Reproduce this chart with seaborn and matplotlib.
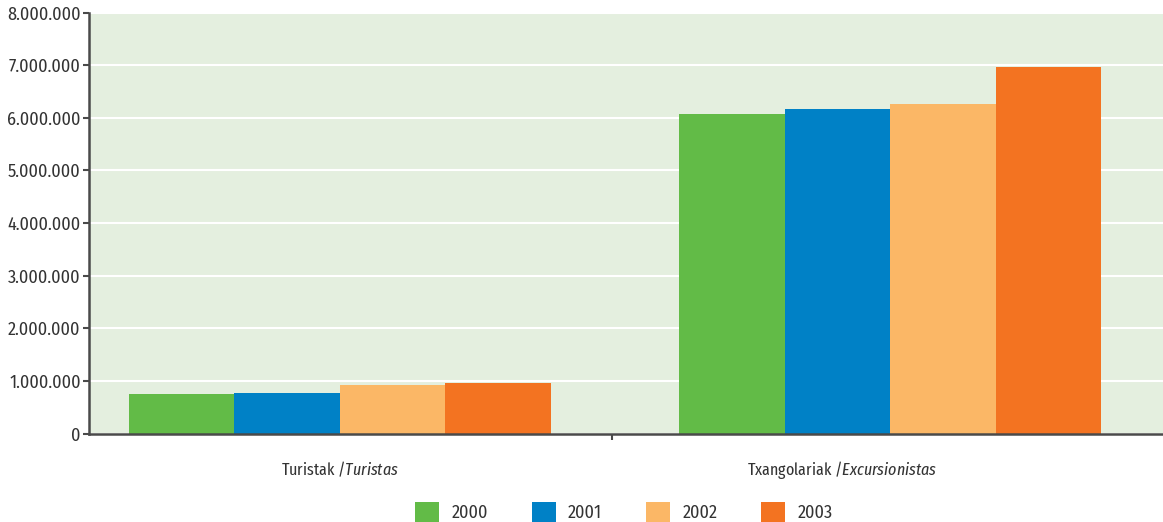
import matplotlib
matplotlib.use("Agg")
import matplotlib.pyplot as plt
import seaborn as sns
import pandas as pd
from matplotlib import font_manager as fm
from matplotlib.ticker import FuncFormatter, FixedLocator

categories = ["Turistak /$\\it{Turistas}$", "Txangolariak /$\\it{Excursionistas}$"]
years = ["2000", "2001", "2002", "2003"]
turistak = [747000, 766000, 918000, 956000]
txangolariak = [6070000, 6165000, 6260000, 6964000]
colors = ["#62bb47", "#0081c6", "#fbb766", "#f37321"]

rows = []
for i, y in enumerate(years):
    rows.append({"cat": categories[0], "year": y, "value": turistak[i]})
    rows.append({"cat": categories[1], "year": y, "value": txangolariak[i]})
df = pd.DataFrame(rows)

sns.set_style("white")
names = {f.name for f in fm.fontManager.ttflist}
font = "DejaVu Sans"
for cand in ["Fira Sans Condensed", "Roboto Condensed", "Archivo Narrow", "PT Sans Narrow"]:
    if cand in names:
        font = cand
        break
labfont = font
labsize = 11.5
if "Fira Sans Extra Condensed" in names:
    labfont = "Fira Sans Extra Condensed"
    labsize = 12.5
plt.rcParams["font.family"] = [font, "DejaVu Sans"]
plt.rcParams["mathtext.fontset"] = "custom"
plt.rcParams["mathtext.it"] = labfont + ":italic"
plt.rcParams["mathtext.rm"] = labfont

fig = plt.figure(figsize=(11.63, 5.22), dpi=100)
ax = fig.add_axes([89 / 1163, 1 - 433.5 / 522, (1163 - 89) / 1163, (433.5 - 12.5) / 522])
ax.set_facecolor("#e4efdf")

sns.barplot(data=df, x="cat", y="value", hue="year", hue_order=years,
            palette=colors, width=0.767, saturation=1, ax=ax, legend=True,
            order=categories, linewidth=0, edgecolor="none")

ax.set_ylim(0, 8000000)
ax.set_xlim(-0.456, 1.496)
ax.yaxis.set_major_locator(FixedLocator(range(0, 8000001, 1000000)))
ax.yaxis.set_major_formatter(FuncFormatter(lambda v, p: f"{int(v):,}".replace(",", ".")))
ax.grid(axis="y", color="white", linewidth=1.5)
ax.set_axisbelow(True)
for s in ["top", "right"]:
    ax.spines[s].set_visible(False)
for s in ["left", "bottom"]:
    ax.spines[s].set_color("#4a4a4a")
    ax.spines[s].set_linewidth(1.8)
ax.spines["bottom"].set_zorder(5)
ax.tick_params(axis="y", which="major", left=True, length=4, width=1.5, color="#4a4a4a",
               labelsize=13, labelcolor="#333333", pad=2)
ax.set_xticks([0, 0.913])
ax.set_xticklabels(categories, fontfamily=labfont)
ax.tick_params(axis="x", which="major", bottom=False, labelsize=labsize, labelcolor="#333333", pad=15)
ax.xaxis.set_minor_locator(FixedLocator([0.4945]))
ax.tick_params(axis="x", which="minor", bottom=True, length=4, width=1.5, color="#4a4a4a")
ax.set_xlabel("")
ax.set_ylabel("")

h, l = ax.get_legend_handles_labels()
ax.legend(h, l, loc="center", bbox_to_anchor=(624 / 1163, 1 - 512 / 522),
          bbox_transform=fig.transFigure, ncol=4, frameon=False,
          fontsize=13, handlelength=1.33, handleheight=1.28, handletextpad=0.67,
          columnspacing=2.44, labelcolor="#333333", borderpad=0, borderaxespad=0)

fig.savefig("out.png", dpi=100)
